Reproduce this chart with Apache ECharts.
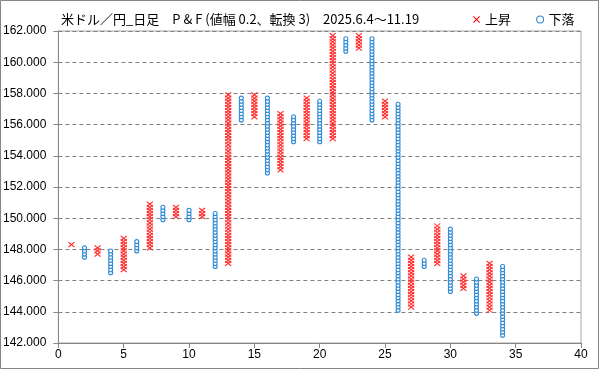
<!DOCTYPE html>
<html>
<head>
<meta charset="utf-8">
<script src="https://cdn.jsdelivr.net/npm/echarts@6/dist/echarts.min.js"></script>
<style>html,body{margin:0;padding:0;background:#fff}#c{width:599px;height:369px}</style>
</head>
<body>
<div id="c"></div>
<script>
// Point & Figure: box size 0.2, reversal 3
const boxSize = 0.2;
// column types (X = rising, O = falling)
const colTypes = ['X','O','X','O','X','O','X','O','X','O','X','O','X','O','X','O','X',
                  'O','X','O','X','O','X','O','X','O','X','O','X','O','X','O','X','O'];
// lowest box of each column
const colLow = [148.3,147.5,147.7,146.5,146.7,147.9,148.1,149.9,150.1,149.9,150.1,146.9,147.1,156.3,156.5,152.9,153.1,
                154.9,155.1,154.9,155.1,160.7,160.9,156.3,156.5,144.1,144.3,146.9,147.1,145.3,145.5,143.9,144.1,142.5];
// highest box of each column
const colHigh = [148.3,148.1,148.1,147.9,148.7,148.5,150.9,150.7,150.7,150.5,150.5,150.3,157.9,157.7,157.9,157.7,156.7,
                 156.5,157.7,157.5,161.7,161.5,161.7,161.5,157.5,157.3,147.5,147.3,149.5,149.3,146.3,146.1,147.1,146.9];
const yTicks = [142,144,146,148,150,152,154,156,158,160,162];
const xTicks = [0,5,10,15,20,25,30,35,40];

const xData = [], oData = [];
colTypes.forEach((t, i) => {
  const n = Math.round((colHigh[i] - colLow[i]) / boxSize);
  for (let k = 0; k <= n; k++) {
    const v = +(colLow[i] + k * boxSize).toFixed(1);
    (t === 'X' ? xData : oData).push([i + 1, v]);
  }
});

const chart = echarts.init(document.getElementById('c'));
const axisGray = '#868686';
const filledX = 'path://M0,1L1,0L5,4L9,0L10,1L6,5L10,9L9,10L5,6L1,10L0,9L4,5Z';
chart.setOption({
  animation: false,
  textStyle: { fontFamily: 'Noto Sans CJK JP' },
  title: {
    text: '米ドル／円_日足　P & F (値幅 0.2、転換 3)　2025.6.4〜11.19',
    left: 56, top: 8,
    textStyle: { fontSize: 13, fontWeight: 'normal', color: '#000', fontFamily: 'Noto Sans CJK JP' }
  },
  legend: {
    left: 468, top: 8, itemWidth: 7, itemHeight: 7, itemGap: 25,
    textStyle: { fontSize: 13, color: '#000', fontFamily: 'Noto Sans CJK JP' },
    data: [
      { name: '上昇', icon: filledX, itemStyle: { color: '#ff0000', borderWidth: 0 } },
      { name: '下落', icon: 'circle', itemStyle: { color: '#ffffff', borderColor: '#2e8ad6', borderWidth: 1.1 } }
    ]
  },
  grid: { left: 58, right: 18, top: 31, bottom: 26, show: true, borderColor: '#a6a6a6', borderWidth: 1 },
  xAxis: {
    type: 'value', min: xTicks[0], max: xTicks[xTicks.length - 1], interval: 5,
    axisLine: { lineStyle: { color: axisGray } },
    axisTick: { show: true, length: 5, lineStyle: { color: axisGray } },
    axisLabel: { color: '#000', fontSize: 12, margin: 6, fontFamily: 'Liberation Sans' },
    splitLine: { show: false }
  },
  yAxis: {
    type: 'value', min: yTicks[0], max: yTicks[yTicks.length - 1], interval: 2,
    axisLine: { show: true, lineStyle: { color: axisGray } },
    axisTick: { show: true, length: 5, lineStyle: { color: axisGray } },
    axisLabel: { color: '#000', fontSize: 12, margin: 12, fontFamily: 'Liberation Sans',
                 formatter: v => v.toFixed(3) },
    splitLine: { show: true, lineStyle: { color: '#808080', type: [4, 3], width: 1 } }
  },
  graphic: [{
    type: 'rect', shape: { x: 0.5, y: 0.5, width: 598, height: 368 },
    style: { fill: 'none', stroke: '#868686', lineWidth: 1 }, silent: true, z: 100
  }],
  series: [
    {
      name: '上昇', type: 'scatter', data: xData,
      symbol: 'path://M0,0L10,10M0,10L10,0', symbolSize: [6, 5],
      itemStyle: { color: '#ff0000', borderColor: '#ff2a2a', borderWidth: 1.1, opacity: 1 },
      z: 3
    },
    {
      name: '下落', type: 'scatter', data: oData,
      symbol: 'circle', symbolSize: 4,
      itemStyle: { color: '#ffffff', borderColor: '#2e8ad6', borderWidth: 1.1, opacity: 1 },
      z: 3
    }
  ]
});
</script>
</body>
</html>
